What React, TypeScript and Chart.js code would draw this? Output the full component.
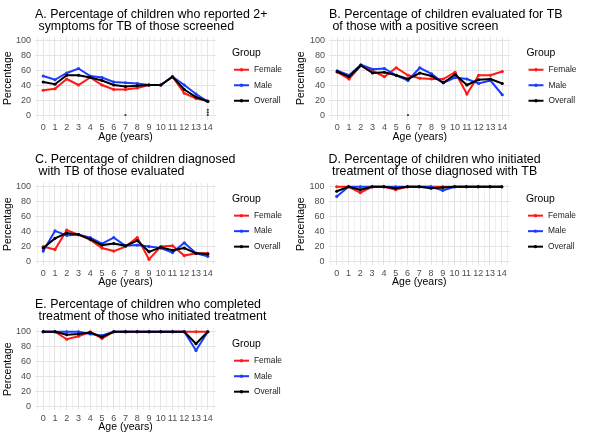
import React, { useEffect, useRef } from "react";
import { Chart, registerables } from "chart.js";

Chart.register(...registerables);

// ---------- data ----------
const ages = [0, 1, 2, 3, 4, 5, 6, 7, 8, 9, 10, 11, 12, 13, 14];
const percentTicks = [0, 20, 40, 60, 80, 100];
const groupNames = ["Female", "Male", "Overall"];
const groupColors = ["#ff1a1a", "#1a3cff", "#000000"];

const screenedFemale = [34, 36, 49, 41, 51, 41, 35, 35, 37, 41, 41, 52, 30, 23, 20];
const screenedMale = [53, 48, 57, 63, 53, 51, 45, 44, 43, 41, 41, 52, 41, 29, 19];
const screenedOverall = [45, 42, 54, 54, 51, 47, 41, 39, 40, 41, 41, 52, 35, 25, 19];
const screenedMarkX = [7, 14, 14, 14];
const screenedMarkY = [1, 1, 4.5, 8];

const evaluatedFemale = [58, 49, 67, 60, 52, 64, 54, 50, 49, 49, 58, 29, 54, 54, 59];
const evaluatedMale = [60, 54, 68, 62, 63, 54, 47, 64, 56, 44, 51, 49, 43, 47, 28];
const evaluatedOverall = [59, 52, 67, 57, 58, 54, 49, 57, 53, 44, 55, 41, 48, 49, 43];
const evaluatedMarkX = [6];
const evaluatedMarkY = [1];

const diagnosedFemale = [20, 16, 42, 36, 29, 18, 14, 20, 32, 3, 20, 21, 8, 11, 11];
const diagnosedMale = [14, 41, 35, 36, 32, 24, 32, 21, 22, 20, 18, 12, 25, 11, 7];
const diagnosedOverall = [18, 31, 38, 36, 30, 22, 24, 21, 28, 13, 19, 15, 18, 11, 10];

const initiatedFemale = [100, 100, 92, 100, 100, 96, 100, 100, 100, 100, 100, 100, 100, 100, 100];
const initiatedMale = [87, 100, 100, 100, 100, 100, 100, 100, 100, 95, 100, 100, 100, 100, 100];
const initiatedOverall = [94, 100, 96, 100, 100, 98, 100, 100, 98, 99, 100, 100, 100, 100, 100];

const completedFemale = [100, 100, 90, 94, 100, 91, 100, 100, 100, 100, 100, 100, 100, 100, 100];
const completedMale = [100, 100, 100, 100, 97, 95, 100, 100, 100, 100, 100, 100, 100, 75, 100];
const completedOverall = [100, 100, 96, 97, 99, 93, 100, 100, 100, 100, 100, 100, 100, 84, 100];

const titleA = ["A. Percentage of children who reported 2+", " symptoms for TB of those screened"];
const titleB = ["B. Percentage of children evaluated for TB", " of those with a positive screen"];
const titleC = ["C. Percentage of children diagnosed", " with TB of those evaluated"];
const titleD = ["D. Percentage of children who initiated", " treatment of those diagnosed with TB"];
const titleE = ["E. Percentage of children who completed", " treatment of those who initiated treatment"];

const xAxisTitle = "Age (years)";
const yAxisTitle = "Percentage";
const legendTitle = "Group";

// ---------- layout ----------
const FONT = '"Liberation Sans", Arial, Helvetica, sans-serif';

type Panel = {
  key: string;
  title: string[];
  series: number[][];
  markX?: number[];
  markY?: number[];
  box: { left: number; top: number; width: number; height: number };
  area: { left: number; right: number; top: number; bottom: number };
  yTitlePad: number;
};

const panels: Panel[] = [
  {
    key: "A", title: titleA, series: [screenedFemale, screenedMale, screenedOverall],
    markX: screenedMarkX, markY: screenedMarkY,
    box: { left: 0, top: 0, width: 292, height: 145 },
    area: { left: 35, right: 216, top: 37, bottom: 119.5 }, yTitlePad: 2,
  },
  {
    key: "B", title: titleB, series: [evaluatedFemale, evaluatedMale, evaluatedOverall],
    markX: evaluatedMarkX, markY: evaluatedMarkY,
    box: { left: 290, top: 0, width: 308, height: 145 },
    area: { left: 39, right: 220.5, top: 37, bottom: 119.5 }, yTitlePad: 4.7,
  },
  {
    key: "C", title: titleC, series: [diagnosedFemale, diagnosedMale, diagnosedOverall],
    box: { left: 0, top: 145, width: 292, height: 145 },
    area: { left: 35, right: 216, top: 38, bottom: 120.3 }, yTitlePad: 2,
  },
  {
    key: "D", title: titleD, series: [initiatedFemale, initiatedMale, initiatedOverall],
    box: { left: 290, top: 145, width: 308, height: 145 },
    area: { left: 38.5, right: 220, top: 38, bottom: 120.3 }, yTitlePad: 4.7,
  },
  {
    key: "E", title: titleE, series: [completedFemale, completedMale, completedOverall],
    box: { left: 0, top: 290, width: 292, height: 145 },
    area: { left: 35, right: 216, top: 38, bottom: 120.4 }, yTitlePad: 2,
  },
];

const xGrid = [ages[0] - 0.5, ...ages.flatMap((a) => [a, a + 0.5])];
const yGrid = percentTicks.flatMap((t, i) => (i < percentTicks.length - 1 ? [t, t + 10] : [t]));

const panelDecor = {
  id: "panelDecor",
  afterDraw(chart: any, _args: any, opts: any) {
    const { ctx, chartArea } = chart;
    ctx.save();
    ctx.fillStyle = "#000";
    ctx.textAlign = "left";
    ctx.textBaseline = "alphabetic";
    ctx.font = `12.4px ${FONT}`;
    (opts.title || []).forEach((line: string, i: number) => {
      ctx.fillText(line, chartArea.left, 17.5 + i * 12.8);
    });
    const mid = (chartArea.top + chartArea.bottom) / 2;
    const lx = chartArea.right + 16;
    ctx.textBaseline = "middle";
    ctx.font = `10.4px ${FONT}`;
    ctx.fillText(legendTitle, lx, mid - 25.5);
    const items = chart.data.datasets.filter((d: any) => !d.isMarker);
    items.forEach((ds: any, i: number) => {
      const y = mid - 8.5 + i * 15.5;
      ctx.strokeStyle = ds.borderColor;
      ctx.lineWidth = 2;
      ctx.beginPath();
      ctx.moveTo(chartArea.right + 18, y);
      ctx.lineTo(chartArea.right + 33, y);
      ctx.stroke();
      ctx.fillStyle = ds.borderColor;
      ctx.beginPath();
      ctx.arc(chartArea.right + 25.5, y, 1.7, 0, Math.PI * 2);
      ctx.fill();
      ctx.fillStyle = "#1a1a1a";
      ctx.font = `8.4px ${FONT}`;
      ctx.fillText(ds.label, chartArea.right + 38, y);
    });
    ctx.restore();
  },
};

function PanelChart({ panel }: { panel: Panel }) {
  const ref = useRef<HTMLCanvasElement | null>(null);
  useEffect(() => {
    const canvas = ref.current;
    if (!canvas) return;
    const { box, area } = panel;
    const datasets: any[] = panel.series.map((vals, gi) => ({
      label: groupNames[gi],
      data: ages.map((a, i) => ({ x: a, y: vals[i] })),
      borderColor: groupColors[gi],
      backgroundColor: groupColors[gi],
      borderWidth: 2,
      pointRadius: 1.6,
      pointHoverRadius: 1.6,
      pointBorderWidth: 0,
      tension: 0,
      order: 3 - gi,
    }));
    if (panel.markX && panel.markY) {
      datasets.push({
        label: "sig",
        isMarker: true,
        data: panel.markX.map((x, i) => ({ x, y: panel.markY![i] })),
        showLine: false,
        borderColor: "#333",
        backgroundColor: "#333",
        pointRadius: 1.1,
        pointBorderWidth: 0,
        order: 0,
      });
    }
    const chart = new Chart(canvas, {
      type: "line",
      data: { datasets },
      plugins: [panelDecor as any],
      options: {
        responsive: false,
        animation: false,
        devicePixelRatio: 1,
        layout: { padding: { left: 0, top: area.top, right: box.width - area.right, bottom: 0 } },
        plugins: {
          legend: { display: false },
          tooltip: { enabled: false },
          panelDecor: { title: panel.title },
        } as any,
        scales: {
          x: {
            type: "linear",
            min: -0.7,
            max: 14.7,
            afterBuildTicks: (s: any) => {
              s.ticks = xGrid.map((v) => ({ value: v }));
            },
            afterFit: (s: any) => {
              s.height = box.height - area.bottom;
            },
            border: { display: false },
            grid: {
              drawTicks: false,
              color: (c: any) => (Number.isInteger(c.tick?.value) ? "#e4e4e4" : "#f0f0f0"),
              lineWidth: 1,
            },
            ticks: {
              autoSkip: false,
              maxRotation: 0,
              padding: 2.5,
              color: "#4d4d4d",
              font: { size: 9, family: FONT },
              callback: (v: any) => (ages.includes(v) ? String(v) : ""),
            },
            title: {
              display: true,
              text: xAxisTitle,
              color: "#000",
              font: { size: 10.5, family: FONT },
              padding: { top: 0, bottom: 1.7 },
            },
          },
          y: {
            type: "linear",
            min: -5,
            max: 105,
            afterBuildTicks: (s: any) => {
              s.ticks = yGrid.map((v) => ({ value: v }));
            },
            afterFit: (s: any) => {
              s.width = area.left;
            },
            border: { display: false },
            grid: {
              drawTicks: false,
              color: (c: any) => (percentTicks.includes(c.tick?.value) ? "#e4e4e4" : "#f0f0f0"),
              lineWidth: 1,
            },
            ticks: {
              padding: 4,
              color: "#4d4d4d",
              font: { size: 9, family: FONT },
              callback: (v: any) => (percentTicks.includes(v) ? String(v) : ""),
            },
            title: {
              display: true,
              text: yAxisTitle,
              color: "#000",
              font: { size: 10.5, family: FONT },
              padding: { top: panel.yTitlePad, bottom: 0 },
            },
          },
        },
      } as any,
    });
    return () => chart.destroy();
  }, [panel]);
  const { box } = panel;
  return (
    <canvas
      ref={ref}
      width={box.width}
      height={box.height}
      style={{ position: "absolute", left: box.left, top: box.top, width: box.width, height: box.height }}
    />
  );
}

export default function App() {
  return (
    <div style={{ position: "fixed", left: 0, top: 0, width: 598, height: 439, background: "#fff", overflow: "hidden" }}>
      {panels.map((p) => (
        <PanelChart key={p.key} panel={p} />
      ))}
    </div>
  );
}
